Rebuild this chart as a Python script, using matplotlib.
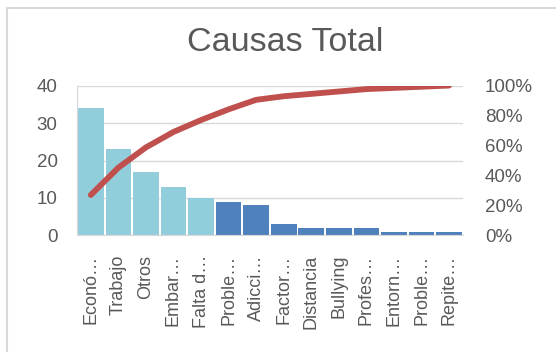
import numpy as np
import matplotlib.pyplot as plt
from matplotlib.patches import Rectangle
from matplotlib.ticker import FuncFormatter

# colores tipo Excel
LIGHT_BLUE = "#92cddc"
DARK_BLUE = "#4f81bd"
RED = "#c0504d"
GREY = "#595959"
GRID = "#d9d9d9"

plt.rcParams.update({
    "font.family": ["Liberation Sans", "DejaVu Sans"],
    "font.size": 13,
})

categorias = ["Econó…", "Trabajo", "Otros", "Embar…", "Falta d…", "Proble…",
              "Adicci…", "Factor…", "Distancia", "Bullying", "Profes…",
              "Entorn…", "Proble…", "Repite…"]
valores = [34, 23, 17, 13, 10, 9, 8, 3, 2, 2, 2, 1, 1, 1]
n_claros = 5  # primeras barras en azul claro

x = np.arange(len(categorias))
acum = np.cumsum(valores) / np.sum(valores)
colores = [LIGHT_BLUE if i < n_claros else DARK_BLUE for i in range(len(valores))]

fig = plt.figure(figsize=(5.56, 3.52), dpi=100)
ax = fig.add_axes([0.1385, 0.331, 0.694, 0.426])

# borde del gráfico
fig.patches.append(Rectangle((7 / 556, -0.1), 1.2, 1 - 8 / 352 + 0.1,
                             transform=fig.transFigure, fill=False,
                             edgecolor="#d9d9d9", linewidth=1.5))

ax.bar(x, valores, width=0.93, color=colores, zorder=2)
ax.set_xlim(-0.5, len(valores) - 0.5)
ax.set_ylim(0, 40)
ax.set_yticks([0, 10, 20, 30, 40])
ax.grid(axis="y", color=GRID, linewidth=1, zorder=0)
ax.set_axisbelow(True)
for s in ["top", "right"]:
    ax.spines[s].set_visible(False)
ax.spines["left"].set_color(GRID)
ax.spines["bottom"].set_color(GRID)
ax.tick_params(axis="y", length=0, pad=14, colors=GREY, labelsize=13.5)
ax.tick_params(axis="x", length=0, pad=14, colors=GREY, labelsize=13)
ax.set_xticks(x)
ax.set_xticklabels(categorias, rotation=90)

ax2 = ax.twinx()
ax2.plot(x, acum, color=RED, linewidth=4.2, solid_capstyle="round",
         solid_joinstyle="round", zorder=3)
ax2.set_ylim(0, 1)
ax2.set_yticks([0, 0.2, 0.4, 0.6, 0.8, 1.0])
ax2.yaxis.set_major_formatter(FuncFormatter(lambda v, _: f"{v:.0%}"))
ax2.tick_params(axis="y", length=0, pad=16, colors=GREY, labelsize=13.5)
for s in ax2.spines.values():
    s.set_visible(False)

fig.text(0.513, 0.88, "Causas Total", ha="center", va="center",
         fontsize=24.5, color=GREY)

plt.savefig("out.png", dpi=100)
